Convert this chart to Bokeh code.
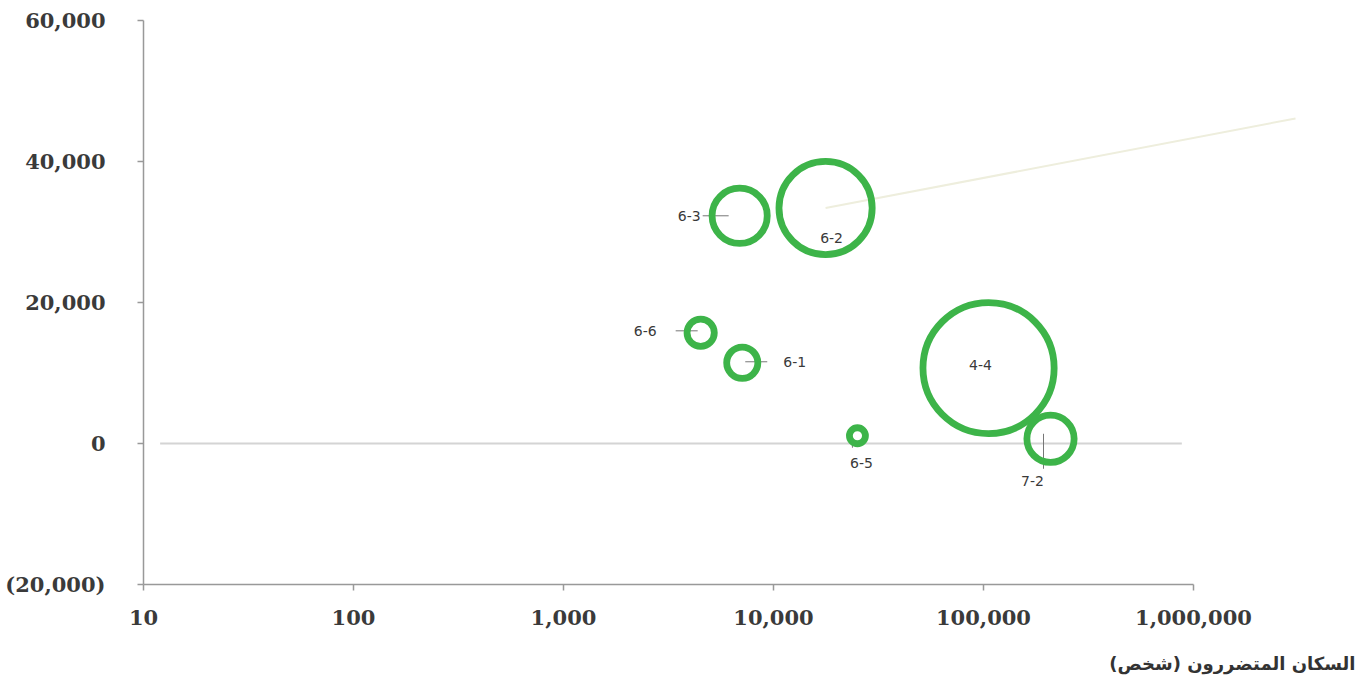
import math
from bokeh.plotting import figure
from bokeh.models import ColumnDataSource, Range1d, FixedTicker, Title
from bokeh.embed import file_html
from bokeh.resources import INLINE
from bokeh.core.properties import value

# ---------------- data ----------------
codes = ["6-3", "6-2", "6-6", "6-1", "6-5", "4-4", "7-2"]
affected_people = [6900, 17700, 4500, 7100, 25100, 105700, 208500]
net_value = [32300, 33400, 15700, 11450, 1100, 10700, 670]
bubble_value = [9600, 25000, 2900, 3600, 1300, 47600, 7300]

x_ticks = [10, 100, 1000, 10000, 100000, 1000000]
x_tick_labels = ["10", "100", "1,000", "10,000", "100,000", "1,000,000"]
y_ticks = [-20000, 0, 20000, 40000, 60000]
y_tick_labels = ["(20,000)", "0", "20,000", "40,000", "60,000"]

callout_x = [17700, 3060000]
callout_y = [33400, 46100]
zero_line_x = [12, 880000]

x_title = "السكان المتضررون (شخص)"

# ---------------- layout / style ----------------
FRAME_W, FRAME_H = 1212, 564
PX_PER_DECADE = 210.0
X_LOG_MAX = 1 + FRAME_W / PX_PER_DECADE
Y_MIN, Y_MAX = -20000, 60000
PX_PER_Y = FRAME_H / (Y_MAX - Y_MIN)
GREEN = "#3db449"
RING_W = 6.8

# label placement (screen px offsets from bubble centre, y down) and alignment
label_layout = {
    "6-3": (-39, 0, "right"),
    "6-2": (6, 30, "center"),
    "6-6": (-44, -2, "right"),
    "6-1": (41, -1, "left"),
    "6-5": (4, 27, "center"),
    "4-4": (-8, -3, "center"),
    "7-2": (-18, 42, "center"),
}
# leader lines: (dx0, dy0, dx1, dy1) in px from bubble centre
leader_layout = {
    "6-3": (-37, 0, -11, 0),
    "6-6": (-25, -2, -3, -2),
    "6-1": (3, -1, 25, -1),
    "6-5": (-5, 6, -5, 12),
    "7-2": (-7, -5, -7, 30),
}


def shift(x, y, dx, dy):
    return x * 10 ** (dx / PX_PER_DECADE), y - dy / PX_PER_Y


p = figure(
    x_axis_type="log",
    x_range=Range1d(10, 10 ** X_LOG_MAX),
    y_range=Range1d(Y_MIN, Y_MAX),
    frame_width=FRAME_W,
    frame_height=FRAME_H,
    min_border_left=143,
    min_border_top=20,
    min_border_right=8,
    min_border_bottom=4,
    output_backend="svg",
    toolbar_location=None,
)
p.grid.visible = False
p.outline_line_color = None
p.background_fill_color = "white"

# zero reference line
p.line(x=zero_line_x, y=[0, 0], line_color="#d4d4d4", line_width=2)

# callout line from 6-2
p.line(x=callout_x, y=callout_y, line_color="#eeeedd", line_width=2)

# leader lines
lx0, ly0, lx1, ly1 = [], [], [], []
for c, xv, yv in zip(codes, affected_people, net_value):
    if c in leader_layout:
        dx0, dy0, dx1, dy1 = leader_layout[c]
        a = shift(xv, yv, dx0, dy0)
        b = shift(xv, yv, dx1, dy1)
        lx0.append(a[0]); ly0.append(a[1]); lx1.append(b[0]); ly1.append(b[1])
p.segment(x0=lx0, y0=ly0, x1=lx1, y1=ly1, line_color="#777777", line_width=1)

# bubbles (rings)
sizes = [2 * math.sqrt(b / 10.0) - RING_W for b in bubble_value]
src = ColumnDataSource(dict(x=affected_people, y=net_value, size=sizes))
p.scatter(x="x", y="y", size="size", source=src, marker="circle",
          fill_color=None, line_color=GREEN, line_width=RING_W)

# labels
tx, ty, tt, ta = [], [], [], []
for c, xv, yv in zip(codes, affected_people, net_value):
    dx, dy, al = label_layout[c]
    sx, sy = shift(xv, yv, dx, dy)
    tx.append(sx); ty.append(sy); tt.append(c); ta.append(al)
lsrc = ColumnDataSource(dict(x=tx, y=ty, text=tt, align=ta))
p.text(x="x", y="y", text="text", source=lsrc, text_align="align",
       text_baseline="middle", text_font=value("DejaVu Sans"),
       text_font_size="14px", text_color="#3a3a3a")

# axes
for ax in (p.xaxis[0], p.yaxis[0]):
    ax.axis_line_color = "#999999"
    ax.axis_line_width = 1.5
    ax.major_tick_line_color = "#999999"
    ax.major_tick_line_width = 1.5
    ax.major_tick_in = 0
    ax.major_tick_out = 6
    ax.minor_tick_line_color = None
    ax.major_label_text_font = "DejaVu Serif"
    ax.major_label_text_font_style = "bold"
    ax.major_label_text_font_size = "21px"
    ax.major_label_text_color = "#3a3a3a"

p.xaxis.bounds = (x_ticks[0], x_ticks[-1])
p.yaxis.bounds = (y_ticks[0], y_ticks[-1])
p.xaxis.ticker = FixedTicker(ticks=x_ticks)
p.yaxis.ticker = FixedTicker(ticks=y_ticks)
p.xaxis.major_label_overrides = {t: l for t, l in zip(x_ticks, x_tick_labels)}
p.yaxis.major_label_overrides = {t: l for t, l in zip(y_ticks, y_tick_labels)}
p.xaxis.major_label_standoff = 19
p.yaxis.major_label_standoff = 32

p.add_layout(Title(text=x_title, align="right", text_font="DejaVu Sans",
                   text_font_size="18px", text_font_style="bold",
                   text_color="#333333", standoff=47), "below")

open("out.html", "w").write(file_html(p, INLINE))
